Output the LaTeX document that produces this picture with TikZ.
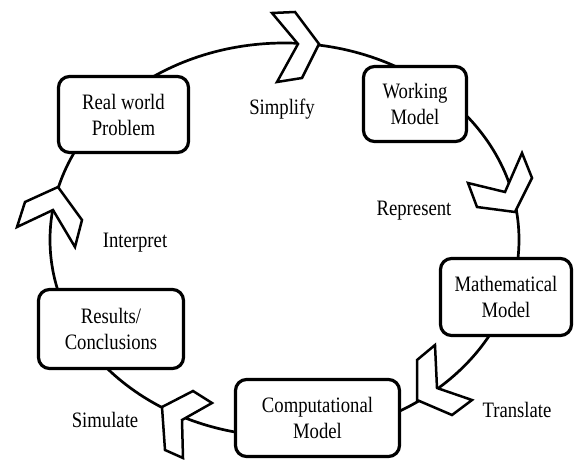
\documentclass[tikz,border=0pt]{standalone}
\usepackage{fontspec}
\setmainfont{Liberation Serif}[FakeStretch=0.85]
\begin{document}
\begin{tikzpicture}[x=1pt,y=-1pt,
  stage/.style={draw, line width=3.2pt, rounded corners=11pt, fill=white,
    align=center, inner sep=0pt, font=\fontsize{22}{26}\selectfont},
  verb/.style={inner sep=0pt, font=\fontsize{22}{26}\selectfont},
  chev/.style={draw, fill=white, line width=2.5pt, line join=miter},
  cycleline/.style={line width=2.7pt}]
\useasboundingbox (0,0) rectangle (576,460);

% the modelling cycle
\coordinate (hub) at (284.5,239.7);
\draw[cycleline] (hub) ellipse [x radius=234.5, y radius=196.7];

% direction chevrons along the cycle
\draw[chev] (295,12) -- (319,44) -- (302,78) -- (277,82) -- (298,44) -- (272,13) -- cycle;
\draw[chev] (532,178) -- (515,212) -- (477,207) -- (468,183) -- (505,192) -- (522,153) -- cycle;
\draw[chev] (417,360) -- (417,400) -- (452,415) -- (472,400) -- (437,388) -- (435,345) -- cycle;
\draw[chev] (193,391) -- (162,407) -- (165,450) -- (183,458) -- (182,420) -- (212,403) -- cycle;
\draw[chev] (82,220) -- (58,187) -- (25,202) -- (17,227) -- (53,210) -- (75,247) -- cycle;

% stages
\node[stage, minimum width=130pt, minimum height=76pt] (real) at (123.5,114.5) {Real world\\Problem};
\node[stage, minimum width=103pt, minimum height=75pt] (work) at (415,104) {Working\\Model};
\node[stage, minimum width=131pt, minimum height=77pt] (math) at (506,297) {Mathematical\\Model};
\node[stage, minimum width=164pt, minimum height=77pt] (comp) at (317.5,418) {Computational\\Model};
\node[stage, minimum width=145pt, minimum height=79pt] (res) at (111,329) {Results/\\Conclusions};

% step labels
\node[verb] (simplify) at (282,109) {Simplify};
\node[verb] (represent) at (414,211) {Represent};
\node[verb] (translate) at (517,410) {Translate};
\node[verb] (simulate) at (105,420) {Simulate};
\node[verb] (interpret) at (135,243) {Interpret};
\end{tikzpicture}
\end{document}
